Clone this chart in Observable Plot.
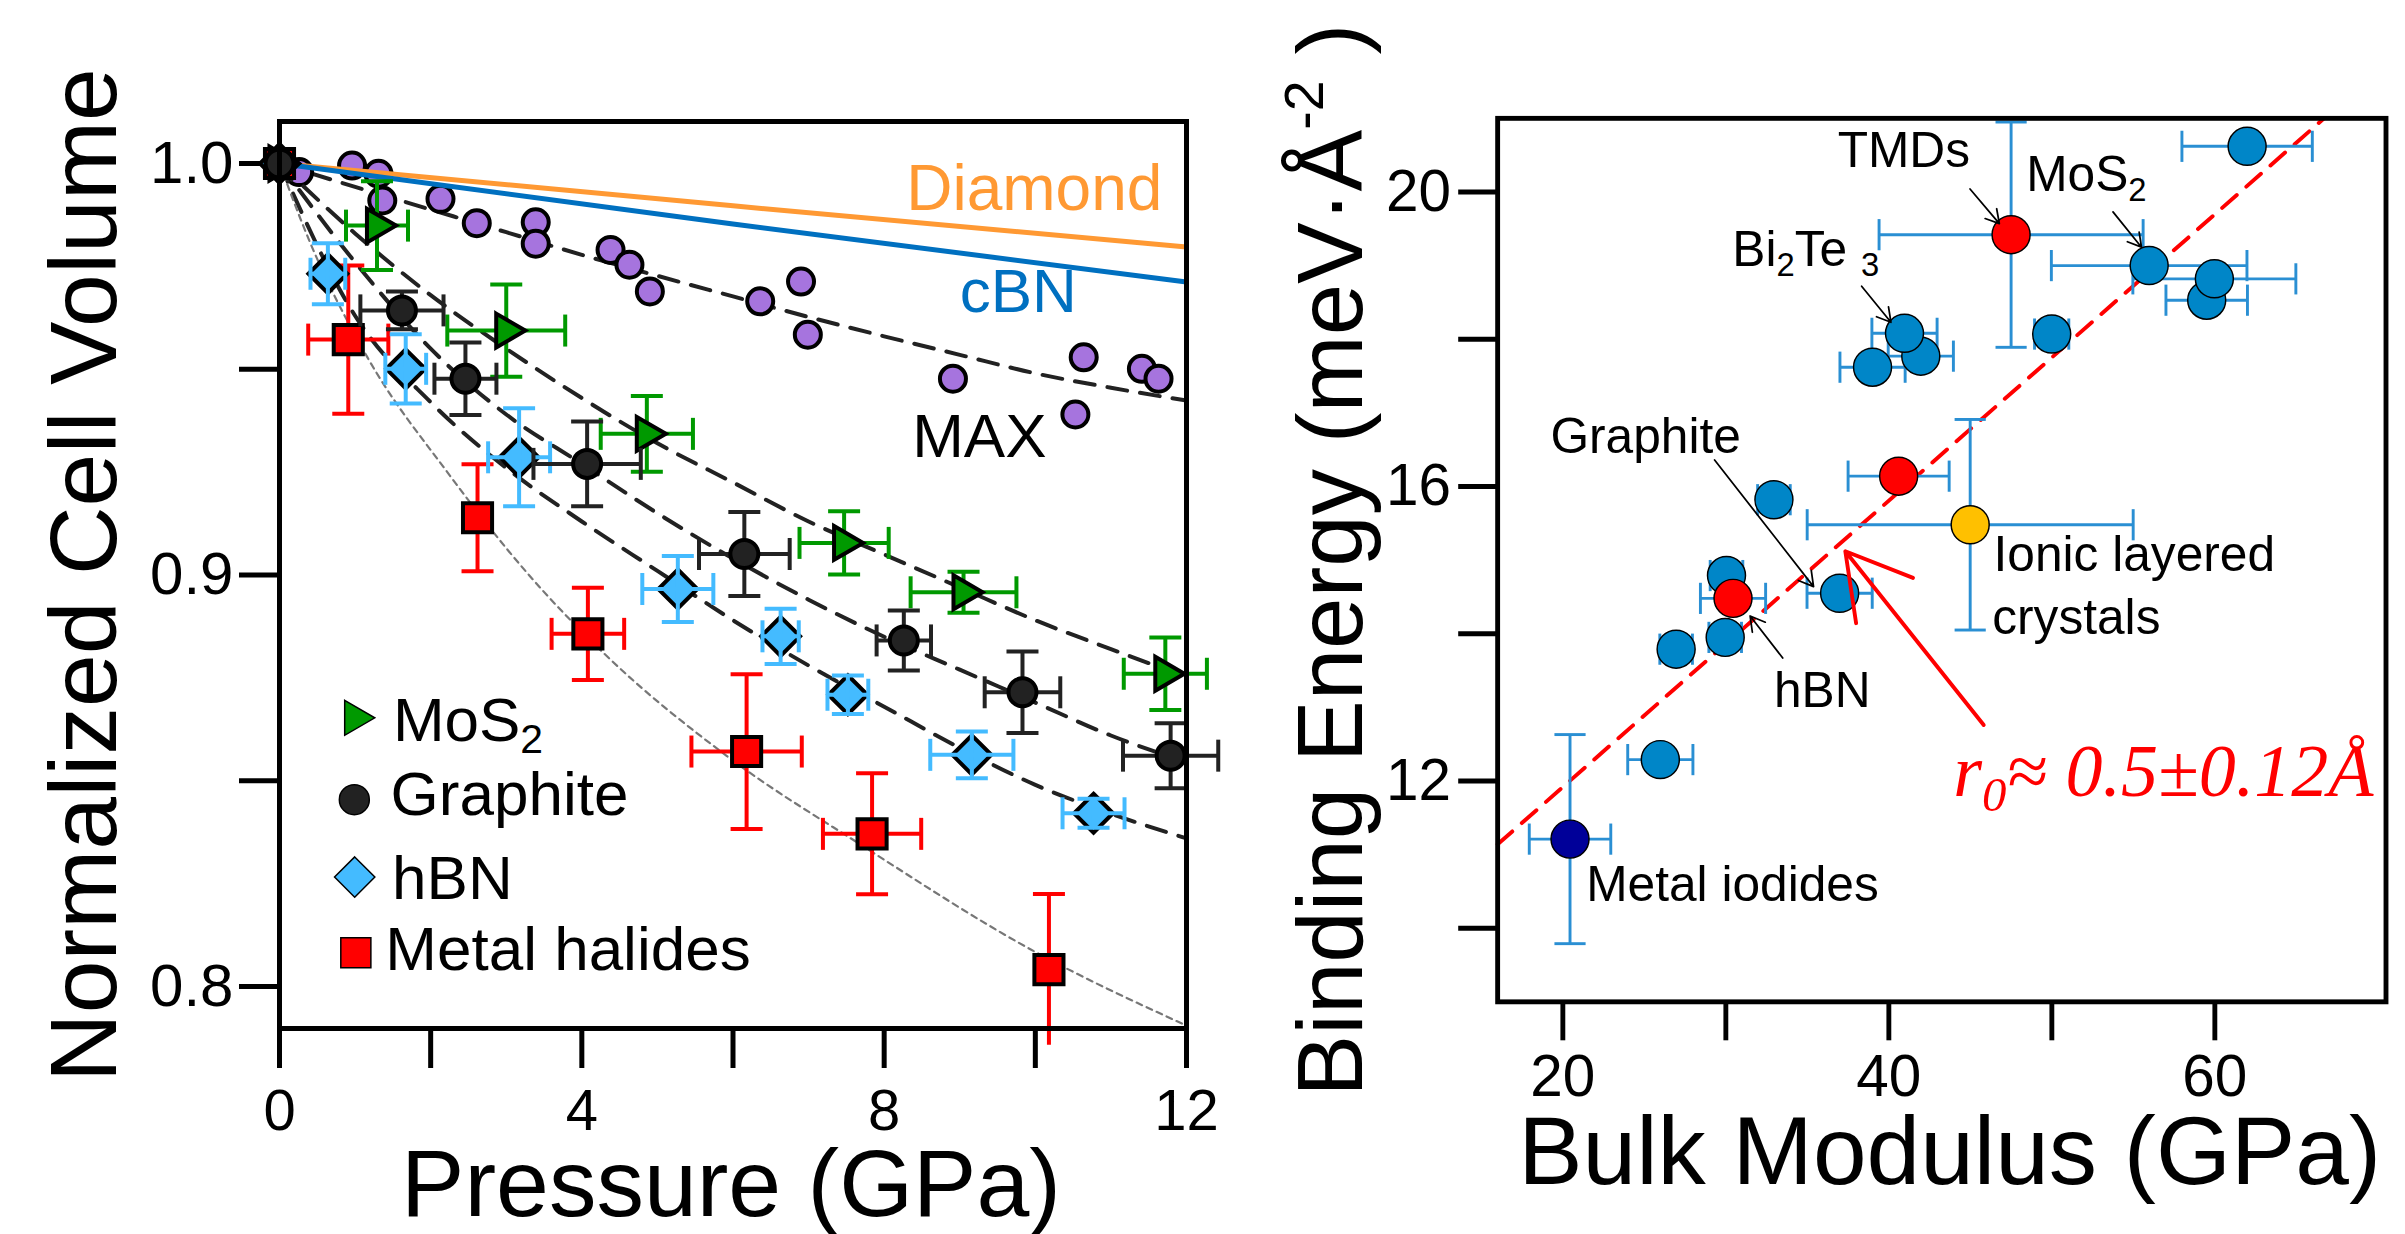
<!DOCTYPE html>
<html><head><meta charset="utf-8">
<script src="https://cdn.jsdelivr.net/npm/d3@7"></script>
<script src="https://cdn.jsdelivr.net/npm/@observablehq/plot@0.6"></script>
<style>
html,body{margin:0;padding:0;background:#fff;overflow:hidden;width:2405px;height:1234px;}
#left{position:absolute;left:0;top:0;}
#right{position:absolute;left:1240px;top:0;}
</style></head><body>
<div id="left"></div><div id="right"></div>
<script>
// ================= LEFT PANEL DATA (Pressure GPa, normalized cell volume) =================
const maxPressure = [0.26, 0.96, 1.31, 1.36, 2.13, 2.61, 3.39, 3.39, 4.38, 4.63, 4.90, 6.36, 6.90, 6.99, 8.91, 10.64, 10.53, 11.41, 11.63];
const maxVolume   = [0.9979, 0.9995, 0.9975, 0.9910, 0.9914, 0.9855, 0.9857, 0.9805, 0.9790, 0.9754, 0.9689, 0.9665, 0.9713, 0.9584, 0.9477, 0.9529, 0.9390, 0.9501, 0.9477];

const mos2Pressure = [0, 1.29, 3.00, 4.86, 7.47, 9.05, 11.72];
const mos2Volume   = [1.0, 0.9849, 0.9594, 0.9343, 0.9078, 0.8958, 0.8760];
const mos2PErr     = [0, 0.41, 0.78, 0.61, 0.59, 0.70, 0.55];
const mos2VErr     = [0, 0.0108, 0.0112, 0.0092, 0.0077, 0.0050, 0.0088];

const graphitePressure = [0, 1.62, 2.46, 4.07, 6.15, 8.26, 9.83, 11.79];
const graphiteVolume   = [1.0, 0.9643, 0.9477, 0.9270, 0.9051, 0.8841, 0.8715, 0.8561];
const graphitePErr     = [0, 0.55, 0.41, 0.71, 0.60, 0.36, 0.50, 0.63];
const graphiteVErr     = [0, 0.0046, 0.0088, 0.0103, 0.0102, 0.0073, 0.0099, 0.0079];

const hbnPressure = [0, 0.64, 1.67, 3.17, 5.27, 6.63, 7.52, 9.16, 10.77];
const hbnVolume   = [1.0, 0.9732, 0.9501, 0.9286, 0.8966, 0.8851, 0.8709, 0.8563, 0.8421];
const hbnPErr     = [0, 0.23, 0.27, 0.41, 0.47, 0.24, 0.27, 0.55, 0.41];
const hbnVErr     = [0, 0.0074, 0.0084, 0.0119, 0.0080, 0.0067, 0.0047, 0.0057, 0.0035];

const halidePressure = [0, 0.91, 2.62, 4.08, 6.18, 7.84, 10.18];
const halideVolume   = [1.0, 0.9572, 0.9139, 0.8857, 0.8571, 0.8371, 0.8041];
const halidePErr     = [0, 0.53, 0, 0.48, 0.73, 0.65, 0];
const halideVErr     = [0, 0.0180, 0.0130, 0.0112, 0.0188, 0.0147, 0.0184];

// fitted equation-of-state curves
const fitPressure      = [0, 1, 2, 3, 4, 5, 6, 7, 8, 9, 10, 11, 12];
const maxFitVolume     = [1.0, 0.9943, 0.9888, 0.9833, 0.9778, 0.9727, 0.9677, 0.9627, 0.9580, 0.9535, 0.9490, 0.9455, 0.9424];
const mos2FitVolume    = [1.0, 0.9830, 0.9680, 0.9550, 0.9430, 0.9320, 0.9225, 0.9130, 0.9050, 0.8970, 0.8890, 0.8820, 0.8752];
const graphiteFitVolume= [1.0, 0.9760, 0.9550, 0.9390, 0.9270, 0.9150, 0.9040, 0.8940, 0.8850, 0.8770, 0.8690, 0.8610, 0.8545];
const hbnFitVolume     = [1.0, 0.9630, 0.9420, 0.9260, 0.9130, 0.9010, 0.8890, 0.8780, 0.8680, 0.8580, 0.8490, 0.8420, 0.8360];
const halideFitPressure= [0, 0.4, 1.16, 2.22, 3.3, 4.29, 5.92, 7.73, 9.94, 12];
const halideFitVolume  = [1.0, 0.981, 0.953, 0.925, 0.900, 0.881, 0.856, 0.834, 0.809, 0.7905];
const stiffPressure    = [0, 6, 12];
const diamondVolume    = [1.0, 0.9897, 0.9797];
const cbnVolume        = [1.0, 0.9853, 0.9712];

const pressureTicks  = [0, 2, 4, 6, 8, 10, 12];
const pressureLabels = [0, 4, 8, 12];
const volumeTicks    = [0.8, 0.85, 0.9, 0.95, 1.0];
const volumeLabels   = [0.8, 0.9, 1.0];

// ================= RIGHT PANEL DATA (bulk modulus GPa, binding energy meV/Å²) =================
const bulkModulus   = [20.44, 25.98, 26.95, 29.96, 30.04, 30.44, 32.95, 36.98, 41.96, 40.96, 39.00, 40.60, 44.99, 47.50, 49.99, 55.97, 59.50, 59.97, 61.98];
const bindingEnergy = [11.21, 12.29, 13.79, 13.95, 14.79, 14.48, 15.82, 14.55, 17.77, 18.08, 17.62, 16.14, 15.48, 19.42, 18.07, 19.00, 18.53, 18.82, 20.62];
const bulkErr       = [2.5, 2.0, 1.0, 1.0, 1.0, 2.0, 1.0, 2.0, 2.0, 2.0, 2.0, 3.1, 10.0, 8.1, 1.05, 6.0, 2.5, 5.0, 4.0];
const energyErr     = [1.42, 0, 0, 0, 0, 0, 0, 0, 0, 0, 0, 0, 1.43, 1.53, 0, 0, 0, 0, 0];
const pointGroup    = ["iodide","layered","layered","layered","layered","mean","layered","layered","layered","layered","layered","mean","ionic","mean","layered","layered","layered","layered","layered"];
const fitBulk   = [16.0, 66.7];
const fitEnergy = [11.14, 21.0];

const bulkTicks    = [20, 30, 40, 50, 60];
const bulkLabels   = [20, 40, 60];
const energyTicks  = [10, 12, 14, 16, 18, 20];
const energyLabels = [12, 16, 20];

// ================= annotations =================
const legendNames  = ["MoS_{2}", "Graphite", "hBN", "Metal halides"];
const legendMarkAt = [[1.0, 0.8653], [0.99, 0.8454], [0.995, 0.8266], [1.01, 0.8082]];
const legendTextAt = [[1.50, 0.8596], [1.47, 0.8417], [1.49, 0.8213], [1.40, 0.8041]];

const rightNotes = [
  {text: "TMDs", x: 36.86, y: 20.34},
  {text: "MoS_{2}", x: 48.43, y: 20.02},
  {text: "Bi_{2}Te _{3}", x: 30.4, y: 19.0},
  {text: "Graphite", x: 19.24, y: 16.45},
  {text: "Ionic layered", x: 46.42, y: 14.85},
  {text: "crystals", x: 46.34, y: 13.99},
  {text: "hBN", x: 32.95, y: 13.0},
  {text: "Metal iodides", x: 21.43, y: 10.37}
];
const rightPointers = [
  {x1: 44.98, y1: 20.04, x2: 46.78, y2: 19.57},
  {x1: 53.75, y1: 19.73, x2: 55.50, y2: 19.25},
  {x1: 38.33, y1: 18.72, x2: 40.13, y2: 18.23},
  {x1: 29.31, y1: 16.36, x2: 35.38, y2: 14.64},
  {x1: 33.49, y1: 13.67, x2: 31.49, y2: 14.24}
];
const radiusArrow = [{x1: 45.82, y1: 12.76, x2: 37.33, y2: 15.12}];
const radiusNote  = [{text: "r_{0}≈ 0.5±0.12Å", x: 43.95, y: 11.79}];

// ================= helpers =================
const FONT = "'Liberation Sans', Arial, Helvetica, sans-serif";
const sz = s => Math.sqrt(s / Math.PI);
const triRight = {draw(c, s){const a = sz(s); c.moveTo(-0.67*a, -1.13*a); c.lineTo(1.27*a, 0); c.lineTo(-0.67*a, 1.13*a); c.closePath();}};
const diamond  = {draw(c, s){const a = sz(s); c.moveTo(0, -1.3*a); c.lineTo(1.3*a, 0); c.lineTo(0, 1.3*a); c.lineTo(-1.3*a, 0); c.closePath();}};
const square   = {draw(c, s){const a = sz(s)*0.97; c.rect(-a, -a, 2*a, 2*a);}};
const hCap     = {draw(c, s){const a = sz(s); c.moveTo(-a, 0); c.lineTo(a, 0);}};
const vCap     = {draw(c, s){const a = sz(s); c.moveTo(0, -a); c.lineTo(0, a);}};

const rows = (X, Y, DX, DY) => X.map((x, i) => ({x, y: Y[i], dx: DX ? DX[i] : 0, dy: DY ? DY[i] : 0}));
const line = (X, Y) => X.map((x, i) => ({x, y: Y[i]}));

function errorBars(data, color, sw, capR, yMin) {
  const vb = data.filter(d => d.dy > 0), hb = data.filter(d => d.dx > 0);
  const vcaps = vb.flatMap(d => [{x: d.x, y: d.y - d.dy}, {x: d.x, y: d.y + d.dy}]).filter(c => c.y >= yMin);
  const hcaps = hb.flatMap(d => [{x: d.x - d.dx, y: d.y}, {x: d.x + d.dx, y: d.y}]);
  return [
    Plot.ruleX(vb, {x: "x", y1: d => d.y - d.dy, y2: d => d.y + d.dy, stroke: color, strokeWidth: sw}),
    Plot.ruleY(hb, {y: "y", x1: d => d.x - d.dx, x2: d => d.x + d.dx, stroke: color, strokeWidth: sw}),
    Plot.dot(vcaps, {x: "x", y: "y", symbol: hCap, r: capR, stroke: color, strokeWidth: sw, fill: "none"}),
    Plot.dot(hcaps, {x: "x", y: "y", symbol: vCap, r: capR, stroke: color, strokeWidth: sw, fill: "none"})
  ];
}

function richify(svg) {
  d3.select(svg).selectAll("text").each(function() {
    const t = this.textContent;
    if (!/[_^]\{/.test(t) || this.querySelector("tspan")) return;
    const fs = parseFloat(getComputedStyle(this).fontSize) || 50;
    const sel = d3.select(this);
    sel.text(null);
    for (const p of t.split(/([_^]\{[^}]*\})/)) {
      if (!p) continue;
      const m = p.match(/^([_^])\{([^}]*)\}$/);
      if (m) {
        const sub = m[1] === "_";
        sel.append("tspan").text(m[2])
          .style("font-size", (fs * (sub ? 0.66 : 0.6)) + "px")
          .style("baseline-shift", (sub ? -0.2 * fs : 0.42 * fs) + "px");
      } else sel.append("tspan").text(p);
    }
  });
}

// ================= LEFT PLOT =================
const mos2 = rows(mos2Pressure, mos2Volume, mos2PErr, mos2VErr);
const graphite = rows(graphitePressure, graphiteVolume, graphitePErr, graphiteVErr);
const hbn = rows(hbnPressure, hbnVolume, hbnPErr, hbnVErr);
const halide = rows(halidePressure, halideVolume, halidePErr, halideVErr);
const maxPts = rows(maxPressure, maxVolume);
const Y0 = 0.7898;

const GREEN = "#009900", DARK = "#222222", LBLUE = "#44bbff", RED = "#ff0000", PURPLE = "#a674de";
const dash = {stroke: DARK, strokeWidth: 4, strokeDasharray: "20,13", curve: "monotone-x"};

const legendSymbols = [triRight, "circle", diamond, square];
const legendFills = [GREEN, DARK, LBLUE, RED];
const legendMarks = legendNames.map((n, i) => ({x: legendMarkAt[i][0], y: legendMarkAt[i][1], sym: legendSymbols[i], fill: legendFills[i]}));
const legendTexts = legendNames.map((n, i) => ({text: n, x: legendTextAt[i][0], y: legendTextAt[i][1]}));

const left = Plot.plot({
  width: 1240, height: 1234,
  marginLeft: 279, marginRight: 54, marginTop: 121, marginBottom: 206,
  x: {domain: [0, 12]},
  y: {domain: [Y0, 1.0102]},
  style: {fontFamily: FONT, background: "white", color: "black"},
  marks: [
    Plot.axisX({ticks: pressureTicks, tickFormat: d => pressureLabels.includes(d) ? String(d) : "", tickSize: 40, tickPadding: 20, fontSize: 58, strokeWidth: 5, label: null}),
    Plot.axisY({ticks: volumeTicks, tickFormat: d => volumeLabels.some(v => Math.abs(v - d) < 1e-9) ? d.toFixed(1) : "", tickSize: 40, tickPadding: 6, fontSize: 60, strokeWidth: 5, label: null}),
    Plot.line(line(fitPressure, maxFitVolume), {x: "x", y: "y", ...dash}),
    Plot.dot(maxPts, {x: "x", y: "y", r: 13, fill: PURPLE, stroke: "black", strokeWidth: 4}),
    Plot.line(line(stiffPressure, diamondVolume), {x: "x", y: "y", stroke: "#ff9933", strokeWidth: 5}),
    Plot.line(line(stiffPressure, cbnVolume), {x: "x", y: "y", stroke: "#0070c0", strokeWidth: 5}),
    Plot.line(line(fitPressure, mos2FitVolume), {x: "x", y: "y", ...dash}),
    Plot.line(line(fitPressure, graphiteFitVolume), {x: "x", y: "y", ...dash}),
    Plot.line(line(fitPressure, hbnFitVolume), {x: "x", y: "y", ...dash}),
    Plot.line(line(halideFitPressure, halideFitVolume), {x: "x", y: "y", stroke: "#777", strokeWidth: 2.2, strokeDasharray: "6,5", curve: "monotone-x"}),
    ...errorBars(halide, RED, 4, 16, Y0),
    Plot.dot(halide, {x: "x", y: "y", symbol: square, r: 15, fill: RED, stroke: "black", strokeWidth: 4}),
    Plot.dot(hbn, {x: "x", y: "y", symbol: diamond, r: 15, fill: LBLUE, stroke: "black", strokeWidth: 4}),
    ...errorBars(hbn, LBLUE, 4, 16, Y0),
    ...errorBars(mos2, GREEN, 4, 16, Y0),
    Plot.dot(mos2, {x: "x", y: "y", symbol: triRight, r: 15, fill: GREEN, stroke: "black", strokeWidth: 4}),
    ...errorBars(graphite, DARK, 4, 16, Y0),
    Plot.dot(graphite, {x: "x", y: "y", r: 14, fill: DARK, stroke: "black", strokeWidth: 4}),
    // curve labels
    Plot.text(["Diamond"], {x: 11.68, y: 0.9888, text: d => d, textAnchor: "end", lineAnchor: "bottom", fontSize: 64, fill: "#ff9933"}),
    Plot.text(["cBN"], {x: 9.0, y: 0.964, text: d => d, textAnchor: "start", lineAnchor: "bottom", fontSize: 62, fill: "#0070c0"}),
    Plot.text(["MAX"], {x: 8.37, y: 0.9286, text: d => d, textAnchor: "start", lineAnchor: "bottom", fontSize: 62, fill: "black"}),
    // legend
    ...legendMarks.map(m => Plot.dot([m], {x: "x", y: "y", symbol: m.sym, r: m.sym === "circle" ? 15 : 15.5, fill: m.fill, stroke: "black", strokeWidth: 1.5})),
    Plot.text(legendTexts, {x: "x", y: "y", text: "text", textAnchor: "start", lineAnchor: "bottom", fontSize: 62, fill: "black"}),
    // axis titles
    Plot.text(["Normalized Cell Volume"], {frameAnchor: "left", text: d => d, rotate: -90, dx: -164, textAnchor: "middle", lineAnchor: "bottom", fontSize: 95, fill: "black"}),
    Plot.text(["Pressure (GPa)"], {frameAnchor: "bottom", text: d => d, dy: 187, dx: -2, textAnchor: "middle", lineAnchor: "bottom", fontSize: 95, fill: "black"}),
    Plot.frame({stroke: "black", strokeWidth: 5})
  ]
});
document.getElementById("left").append(left);

// ================= RIGHT PLOT =================
const colorOf = {layered: "#0086c8", mean: "#ff0000", ionic: "#ffc000", iodide: "#000099"};
const pts = bulkModulus.map((x, i) => ({x, y: bindingEnergy[i], dx: bulkErr[i], dy: energyErr[i], g: pointGroup[i]}));
const EBLUE = "#2a8fd3";

const right = Plot.plot({
  width: 1196, height: 1234,
  marginLeft: 264, marginRight: 20, marginTop: 121, marginBottom: 206,
  x: {domain: [16, 70.5]},
  y: {domain: [9, 21]},
  style: {fontFamily: FONT, background: "white", color: "black", overflow: "visible"},
  marks: [
    Plot.axisX({ticks: bulkTicks, tickFormat: d => bulkLabels.includes(d) ? String(d) : "", tickSize: 40, tickPadding: 14, fontSize: 60, strokeWidth: 5, label: null}),
    Plot.axisY({ticks: energyTicks, tickFormat: d => energyLabels.includes(d) ? String(d) : "", tickSize: 40, tickPadding: 8, fontSize: 60, strokeWidth: 5, label: null}),
    Plot.line(line(fitBulk, fitEnergy), {x: "x", y: "y", stroke: "red", strokeWidth: 4, strokeDasharray: "20,13"}),
    ...errorBars(pts, EBLUE, 3, 16, 9),
    Plot.dot(pts.filter(d => d.g !== "mean"), {x: "x", y: "y", r: 19.5, fill: d => colorOf[d.g], stroke: "black", strokeWidth: 1.5}),
    Plot.dot(pts.filter(d => d.g === "mean"), {x: "x", y: "y", r: 19.5, fill: d => colorOf[d.g], stroke: "black", strokeWidth: 1.5}),
    Plot.arrow(rightPointers, {x1: "x1", y1: "y1", x2: "x2", y2: "y2", stroke: "black", strokeWidth: 1.8, headLength: 14}),
    Plot.arrow(radiusArrow, {x1: "x1", y1: "y1", x2: "x2", y2: "y2", stroke: "red", strokeWidth: 4, headLength: 28}),
    Plot.text(rightNotes, {x: "x", y: "y", text: "text", textAnchor: "start", lineAnchor: "bottom", fontSize: 51, fill: "black"}),
    Plot.text(radiusNote, {x: "x", y: "y", text: "text", textAnchor: "start", lineAnchor: "bottom", fontSize: 76, fontFamily: "'Liberation Serif', 'Times New Roman', serif", fontStyle: "italic", fill: "red"}),
    Plot.text(["Binding Energy (meV·Å^{-2} )"], {frameAnchor: "left", text: d => d, rotate: -90, dx: -139, textAnchor: "middle", lineAnchor: "bottom", fontSize: 95, fill: "black"}),
    Plot.text(["Bulk Modulus (GPa)"], {frameAnchor: "bottom", text: d => d, dy: 187, dx: 8, textAnchor: "middle", lineAnchor: "bottom", fontSize: 99, fill: "black"}),
    Plot.frame({stroke: "black", strokeWidth: 5})
  ]
});
document.getElementById("right").append(right);

richify(left);
richify(right);
</script>
</body></html>
